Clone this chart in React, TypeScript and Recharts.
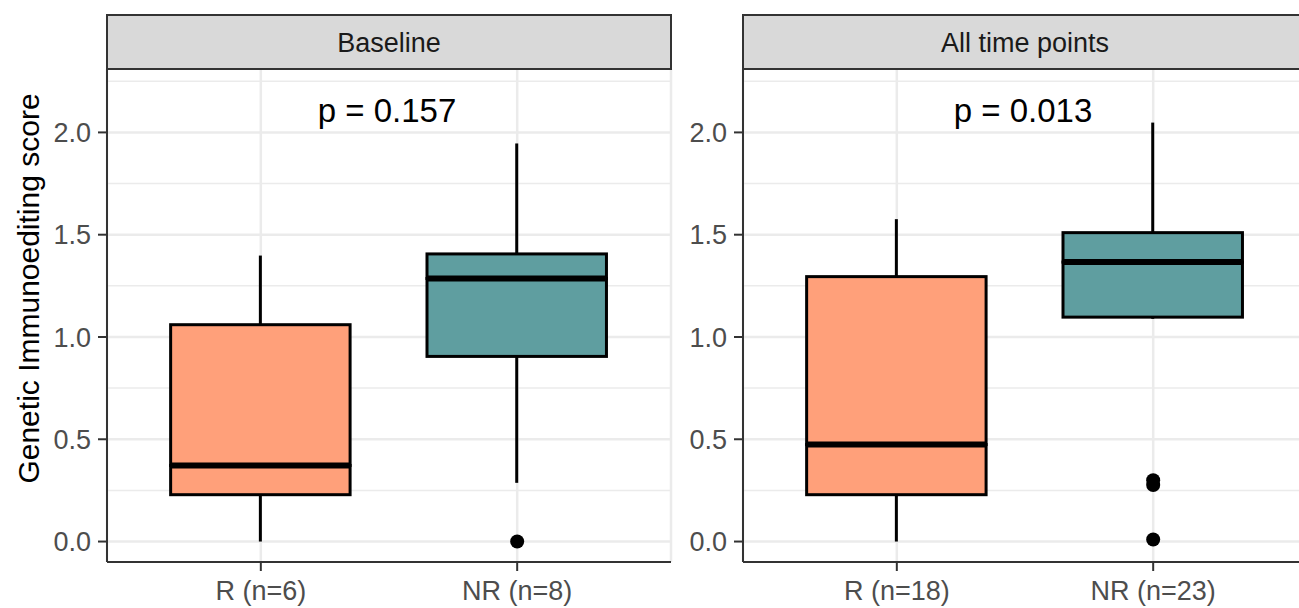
import React from "react";
import {
  ComposedChart,
  Bar,
  Scatter,
  XAxis,
  YAxis,
  CartesianGrid,
  Cell,
} from "recharts";

// fill per group (R, NR)
const boxFills = ["#FFA07A", "#5F9EA0"];

// Baseline panel
const baselineLabels = ["R (n=6)", "NR (n=8)"];
const baselineMin = [0.0, 0.287];
const baselineQ1 = [0.229, 0.905];
const baselineMedian = [0.372, 1.286];
const baselineQ3 = [1.06, 1.406];
const baselineMax = [1.398, 1.946];
const baselineOutliers = [[], [0.0]];

// All time points panel
const allLabels = ["R (n=18)", "NR (n=23)"];
const allMin = [0.0, 1.089];
const allQ1 = [0.229, 1.097];
const allMedian = [0.474, 1.366];
const allQ3 = [1.295, 1.51];
const allMax = [1.576, 2.048];
const allOutliers = [[], [0.3, 0.276, 0.01]];

const yTicks = [0, 0.5, 1, 1.5, 2];
const yMinor = [0.25, 0.75, 1.25, 1.75, 2.25];
const yDomain = [-0.1, 2.31];

const FONT = '"Liberation Sans", Arial, Helvetica, sans-serif';
const BORDER = "#333333";
const GRID = "#EBEBEB";

const WhiskerShape = (p: any) => {
  const cx = p.x + p.width / 2;
  return (
    <line x1={cx} x2={cx} y1={p.y} y2={p.y + p.height} stroke="#000" strokeWidth={3} />
  );
};

const makeBoxShape = (withMedian: boolean) => (p: any) => (
  <g>
    <rect
      x={p.x}
      y={p.y}
      width={p.width}
      height={p.height}
      fill={p.fill}
      stroke="#000"
      strokeWidth={3}
    />
    {withMedian && (
      <line
        x1={p.x}
        x2={p.x + p.width}
        y1={p.y + p.height}
        y2={p.y + p.height}
        stroke="#000"
        strokeWidth={6}
      />
    )}
  </g>
);

const OutlierShape = (p: any) => <circle cx={p.cx} cy={p.cy} r={7} fill="#000" />;

interface PanelProps {
  title: string;
  pLabel: string;
  labels: string[];
  min: number[];
  q1: number[];
  median: number[];
  q3: number[];
  max: number[];
  outliers: number[][];
  left: number;
  axisWidth: number;
  yTitle?: string;
}

const Panel = ({
  title,
  pLabel,
  labels,
  min,
  q1,
  median,
  q3,
  max,
  outliers,
  left,
  axisWidth,
  yTitle,
}: PanelProps) => {
  const data = labels.map((name, i) => ({
    name,
    base: min[i],
    lowW: q1[i] - min[i],
    lowBox: median[i] - q1[i],
    highBox: q3[i] - median[i],
    highW: max[i] - q3[i],
  }));
  const outlierData = labels.flatMap((name, i) =>
    outliers[i].map((v) => ({ name, value: v }))
  );
  const plotW = 564;
  const pad = plotW * (0.1 / 2.2);
  const barSize = ((plotW - 2 * pad) / 2) * 0.7;

  const stripLabel = (props: any) => {
    const vb = props.viewBox;
    return (
      <g>
        <rect
          x={vb.x}
          y={vb.y}
          width={vb.width}
          height={vb.height}
          fill="#D9D9D9"
          stroke={BORDER}
          strokeWidth={2}
        />
        <text
          x={vb.x + vb.width / 2}
          y={vb.y + 37}
          textAnchor="middle"
          fontSize={27}
          fill="#1A1A1A"
          fontFamily={FONT}
        >
          {title}
        </text>
        <text
          x={vb.x + vb.width / 2 - 2}
          y={vb.y + vb.height + 53}
          textAnchor="middle"
          fontSize={33}
          fill="#000"
          fontFamily={FONT}
        >
          {pLabel}
        </text>
      </g>
    );
  };

  const yTitleLabel = (props: any) => {
    if (!yTitle) return null;
    const vb = props.viewBox;
    const x = vb.x + 39;
    const y = vb.y + vb.height / 2 - 27;
    return (
      <text
        x={x}
        y={y}
        transform={`rotate(-90, ${x}, ${y})`}
        textAnchor="middle"
        fontSize={30}
        fill="#000"
        fontFamily={FONT}
      >
        {yTitle}
      </text>
    );
  };

  return (
    <div style={{ position: "absolute", left, top: 0 }}>
      <ComposedChart
        width={axisWidth + plotW + 9}
        height={608}
        data={data}
        margin={{ top: 15, right: 9, bottom: 0, left: 0 }}
        barCategoryGap={0}
      >
        <CartesianGrid
          horizontalValues={yMinor}
          vertical={false}
          stroke={GRID}
          strokeWidth={1.5}
        />
        <CartesianGrid horizontalValues={yTicks} stroke={GRID} strokeWidth={2.5} />
        <XAxis
          dataKey="name"
          allowDuplicatedCategory={false}
          height={46}
          padding={{ left: pad, right: pad }}
          axisLine={{ stroke: BORDER, strokeWidth: 2 }}
          tickLine={{ stroke: BORDER, strokeWidth: 2 }}
          tickSize={9}
          tickMargin={10}
          tick={{ fill: "#4D4D4D", fontSize: 27, fontFamily: FONT }}
          interval={0}
        />
        <XAxis
          xAxisId="strip"
          orientation="top"
          dataKey="name"
          allowDuplicatedCategory={false}
          height={54}
          tick={false}
          tickLine={false}
          axisLine={{ stroke: BORDER, strokeWidth: 2 }}
          label={stripLabel}
        />
        <YAxis
          type="number"
          domain={yDomain}
          allowDataOverflow
          ticks={yTicks}
          width={axisWidth}
          tickFormatter={(v: number) => v.toFixed(1)}
          axisLine={{ stroke: BORDER, strokeWidth: 2 }}
          tickLine={{ stroke: BORDER, strokeWidth: 2 }}
          tickSize={9}
          tickMargin={7}
          tick={{ fill: "#4D4D4D", fontSize: 27, fontFamily: FONT }}
          label={yTitleLabel}
        />
        <YAxis
          yAxisId="border"
          orientation="right"
          type="number"
          domain={yDomain}
          width={0}
          tick={false}
          tickLine={false}
          axisLine={{ stroke: BORDER, strokeWidth: 2 }}
        />
        <Bar dataKey="base" stackId="box" barSize={barSize} isAnimationActive={false} shape={() => <g />} />
        <Bar dataKey="lowW" stackId="box" barSize={barSize} isAnimationActive={false} shape={WhiskerShape} />
        <Bar dataKey="lowBox" stackId="box" barSize={barSize} isAnimationActive={false} shape={makeBoxShape(false)}>
          {data.map((d, i) => (
            <Cell key={d.name} fill={boxFills[i]} />
          ))}
        </Bar>
        <Bar dataKey="highBox" stackId="box" barSize={barSize} isAnimationActive={false} shape={makeBoxShape(true)}>
          {data.map((d, i) => (
            <Cell key={d.name} fill={boxFills[i]} />
          ))}
        </Bar>
        <Bar dataKey="highW" stackId="box" barSize={barSize} isAnimationActive={false} shape={WhiskerShape} />
        <Scatter data={outlierData} dataKey="value" isAnimationActive={false} shape={OutlierShape} />
      </ComposedChart>
    </div>
  );
};

export default function App() {
  return (
    <div
      style={{
        position: "absolute",
        left: 0,
        top: 0,
        width: 1299,
        height: 608,
        overflow: "hidden",
        background: "#fff",
      }}
    >
      <Panel
        title="Baseline"
        pLabel="p = 0.157"
        labels={baselineLabels}
        min={baselineMin}
        q1={baselineQ1}
        median={baselineMedian}
        q3={baselineQ3}
        max={baselineMax}
        outliers={baselineOutliers}
        left={0}
        axisWidth={107}
        yTitle="Genetic Immunoediting score"
      />
      <Panel
        title="All time points"
        pLabel="p = 0.013"
        labels={allLabels}
        min={allMin}
        q1={allQ1}
        median={allMedian}
        q3={allQ3}
        max={allMax}
        outliers={allOutliers}
        left={640}
        axisWidth={103}
      />
    </div>
  );
}
